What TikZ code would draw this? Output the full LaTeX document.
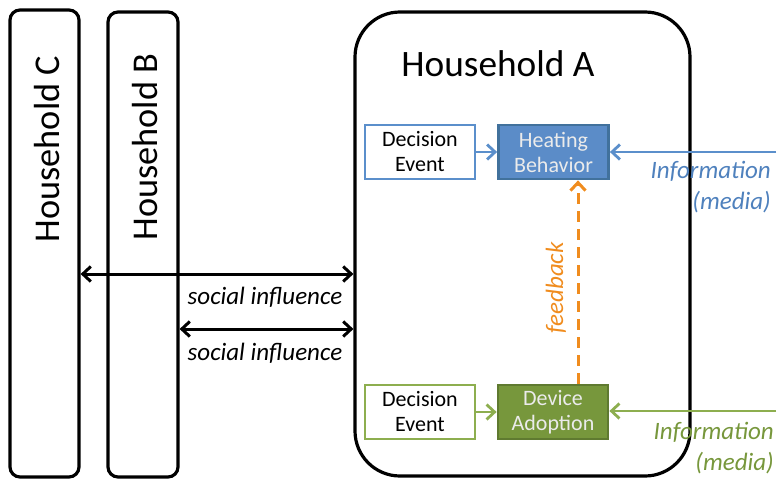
\documentclass[tikz,border=0pt]{standalone}
\usepackage{fontspec}
\setmainfont{Carlito}
\usetikzlibrary{arrows.meta}
\definecolor{bluelt}{HTML}{5B8FCB}
\definecolor{bluefill}{HTML}{5B8CC8}
\definecolor{bluedk}{HTML}{41719C}
\definecolor{bluetxt}{HTML}{4F81BD}
\definecolor{greenlt}{HTML}{8DAE4F}
\definecolor{greenfill}{HTML}{77973C}
\definecolor{greendk}{HTML}{5F7A30}
\definecolor{orng}{HTML}{F08C1E}
\begin{document}
\begin{tikzpicture}[x=1pt,y=-1pt,
  house/.style={draw=black,line width=3.2pt,rounded corners=10pt,minimum width=69pt,minimum height=467pt,inner sep=0pt},
  evbox/.style={draw,line width=2.8pt,fill=white,minimum width=110pt,minimum height=54pt,align=center,font=\fontsize{22}{25}\selectfont,inner sep=0pt},
  stbox/.style={evbox,text=white!92!black},
  arr/.style={line width=2.8pt,-{Straight Barb[length=8pt,width=15pt]}},
  barr/.style={line width=3pt,{Straight Barb[length=8pt,width=15pt]}-{Straight Barb[length=8pt,width=15pt]}},
  lbl/.style={font=\fontsize{25}{31}\selectfont\itshape}
]
\useasboundingbox (0,0) rectangle (781,479);
\node[house] (hC) at (44.5,243.5) {};
\node[house,minimum width=70pt,minimum height=465pt] (hB) at (143,244.5) {};
\node[draw=black,line width=3.2pt,rounded corners=45pt,minimum width=335pt,minimum height=464pt,inner sep=0pt] (hA) at (522.5,244) {};
\node[rotate=90,font=\fontsize{36.3}{40}\selectfont] (tC) at (47,149) {Household C};
\node[rotate=90,font=\fontsize{36.3}{40}\selectfont] (tB) at (145,147) {Household B};
\node[font=\fontsize{37.3}{40}\selectfont] (tA) at (498,64) {Household A};

\node[evbox,draw=bluelt] (de1) at (420,152) {Decision\\Event};
\node[stbox,draw=bluedk,fill=bluefill] (hb) at (553.5,152) {Heating\\Behavior};
\node[evbox,draw=greenlt] (de2) at (420,412) {Decision\\Event};
\node[stbox,draw=greendk,fill=greenfill] (da) at (553,412) {Device\\Adoption};

\draw[arr,draw=bluelt] (de1) -- (hb);
\draw[arr,draw=greenlt] (de2) -- (da);

\coordinate (ib) at (776,152);
\coordinate (ig) at (776,411);
\draw[arr,draw=bluelt] (ib) -- (hb.east |- ib);
\draw[arr,draw=greenlt] (ig) -- (da.east |- ig);
\node[lbl,text=bluetxt,align=right,anchor=north east,inner sep=0pt] (it1) at (771,161) {Information\\(media)};
\node[lbl,text=greenfill,align=right,anchor=north east,inner sep=0pt] (it2) at (774,422) {Information\\(media)};

\draw[orng,line width=3pt,dash pattern=on 11pt off 7pt,-{Straight Barb[length=8pt,width=15pt]}] (da.north -| 578,0) -- (hb.south -| 578,0);
\node[lbl,text=orng,rotate=90] (fb) at (556,288) {feedback};

\draw[barr] (hC.east |- 0,274) -- (hA.west |- 0,274);
\draw[barr] (hB.east |- 0,329) -- (hA.west |- 0,329);
\node[lbl] (si1) at (265,297) {social influence};
\node[lbl] (si2) at (265,353) {social influence};
\end{tikzpicture}
\end{document}
